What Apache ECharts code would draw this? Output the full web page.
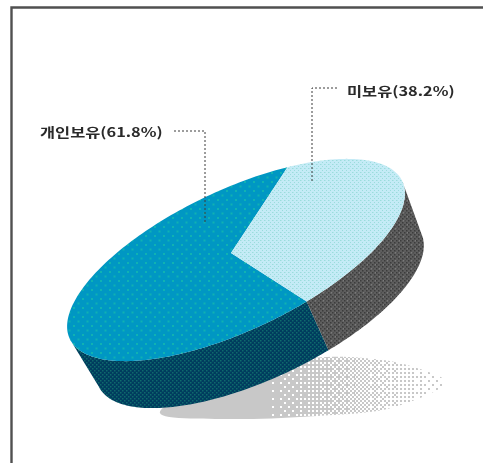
<!DOCTYPE html>
<html><head><meta charset="utf-8">
<style>html,body{margin:0;padding:0;background:#fff}#main{width:483px;height:463px;filter:blur(0.6px)}</style>
<script src="https://cdn.jsdelivr.net/npm/echarts@6/dist/echarts.min.js"></script>
</head><body><div id="main"></div>
<script>
var categories = ['개인보유', '미보유'];
var shares = [61.8, 38.2];

var W = 483, H = 463;
var G = {cx: 236, cy: 260, a: 184, b: 70, rot: 25.4, dx: 24, dy: 50, shrink: 0.97, start: -75.5, apexX: 231, apexY: 253};
var LEAD = [
  {pts: [[174,131],[205,131],[205,222]], text: [40,132], sx: 1.26},
  {pts: [[337,88],[312,88],[312,183]], text: [347,91], sx: 1.26}
];
function pat(w, h, bg, paint) {
  var c = document.createElement('canvas'); c.width = w; c.height = h;
  var g = c.getContext('2d'); g.fillStyle = bg; g.fillRect(0,0,w,h); paint(g);
  return {image: c, repeat: 'repeat'};
}
function dot(g, col, x, y, s) { g.fillStyle = col; g.fillRect(x, y, s, s); }
var CHECK = [[0,0],[4,0],[2,2],[6,2],[0,4],[4,4],[2,6],[6,6]];
var topFills = [
  pat(9, 9, '#0097c3', function(g){ dot(g,'#10b2b2',1,1,2); dot(g,'#10b2b2',5.5,5.5,2); }),
  pat(4, 4, '#c4ebf6', function(g){ dot(g,'#9adcdc',0,0,1); dot(g,'#9adcdc',2,2,1); dot(g,'#b0e4e8',1,0,1);})
];
var sideFills = [
  pat(8, 8, '#003c5e', function(g){
    CHECK.forEach(function(p){ dot(g,'#0f6a6c',p[0],p[1],1.5); });
  }),
  pat(8, 8, '#5e5e5e', function(g){
    CHECK.forEach(function(p){ dot(g,'#3c3c3c',p[0],p[1],1.5); });
    dot(g,'#7a7a7a',3,4,1.5); dot(g,'#7a7a7a',7,0,1.5);
  })
];
var BAYER = [[0,8,2,10],[12,4,14,6],[3,11,1,9],[15,7,13,5]];
var shadowFill = (function(){
  var c = document.createElement('canvas'); c.width = W; c.height = H;
  var g = c.getContext('2d'); g.fillStyle = '#c8c8c8';
  for (var y = 0; y < H; y++) for (var x = 0; x < W; x++) {
    var d = Math.min(1.1, Math.max(0, (455 - x) / 190));
    if ((BAYER[(y>>1)%4][(x>>1)%4] + 0.5) / 16 < d) g.fillRect(x, y, 1, 1);
  }
  return {image: c, repeat: 'no-repeat'};
})();

var th = G.rot * Math.PI / 180;
var ux = Math.cos(th), uy = -Math.sin(th), vx = -Math.sin(th), vy = -Math.cos(th);
function rim(t) {
  return [G.cx + G.a*Math.cos(t)*ux + G.b*Math.sin(t)*vx,
          G.cy + G.a*Math.cos(t)*uy + G.b*Math.sin(t)*vy];
}
function low(p) {
  return [G.cx + (p[0]-G.cx)*G.shrink + G.dx, G.cy + (p[1]-G.cy)*G.shrink + G.dy];
}
function faces(t) {
  var nx = Math.cos(t)/G.a*ux + Math.sin(t)/G.b*vx;
  var ny = Math.cos(t)/G.a*uy + Math.sin(t)/G.b*vy;
  return nx*G.dx + ny*G.dy > 0;
}
var total = shares.reduce(function(s,v){return s+v;},0);
function range(i) {
  var before = shares.slice(0,i).reduce(function(s,v){return s+v;},0);
  var t0 = G.start - before/total*360;
  return [t0*Math.PI/180, (t0 - shares[i]/total*360)*Math.PI/180];
}
function renderSlice(params, api) {
  var i = api.value(0), r = range(i), N = 160, top = [], vis = [];
  function C(p){ return api.coord(p); }
  top.push(C([G.apexX,G.apexY]));
  for (var k = 0; k <= N; k++) {
    var t = r[0] + (r[1]-r[0])*k/N, p = rim(t);
    top.push(C(p));
    if (faces(t)) vis.push(p);
  }
  var side = vis.map(C).concat(vis.slice().reverse().map(function(p){ return C(low(p)); }));
  var L = LEAD[i];
  return {type:'group', children:[
    {type:'polygon', shape:{points:side}, style:{fill:sideFills[i]}},
    {type:'polygon', shape:{points:top}, style:{fill:topFills[i]}},
    {type:'polyline', shape:{points:L.pts.map(C)}, style:{fill:'none',stroke:'#3a3a3a',lineWidth:1,lineDash:[2,2]}},
    {type:'text', x:L.text[0], y:L.text[1], scaleX:L.sx,
     style:{text:categories[i]+'('+shares[i]+'%)', fill:'#2a2a2a', font:'bold 13px "Noto Sans CJK KR"', textAlign:'left', textVerticalAlign:'middle'}}
  ]};
}
var chart = echarts.init(document.getElementById('main'), null, {renderer:'canvas'});
chart.setOption({
  animation:false, backgroundColor:'#fff',
  grid:{left:0,right:0,top:0,bottom:0},
  xAxis:{type:'value',min:0,max:W,show:false},
  yAxis:{type:'value',min:0,max:H,inverse:true,show:false},
  graphic:[
    {type:'polygon',z:0,shape:{points:[[160,413],[237,419],[317,416],[383,410],[427,395],[447,382],[417,368],[383,360],[327,357],[230,370]],smooth:0.3},style:{fill:shadowFill}},
    {type:'polyline',z:1,shape:{points:[[11.5,H],[11.5,7.5],[W,7.5]]},style:{fill:'none',stroke:'#505050',lineWidth:2.4}}
  ],
  series:[{type:'custom',coordinateSystem:'cartesian2d',clip:false,
    data:shares.map(function(v,i){return [i,v];}),
    encode:{x:0,y:1},renderItem:renderSlice}]
});
</script></body></html>
